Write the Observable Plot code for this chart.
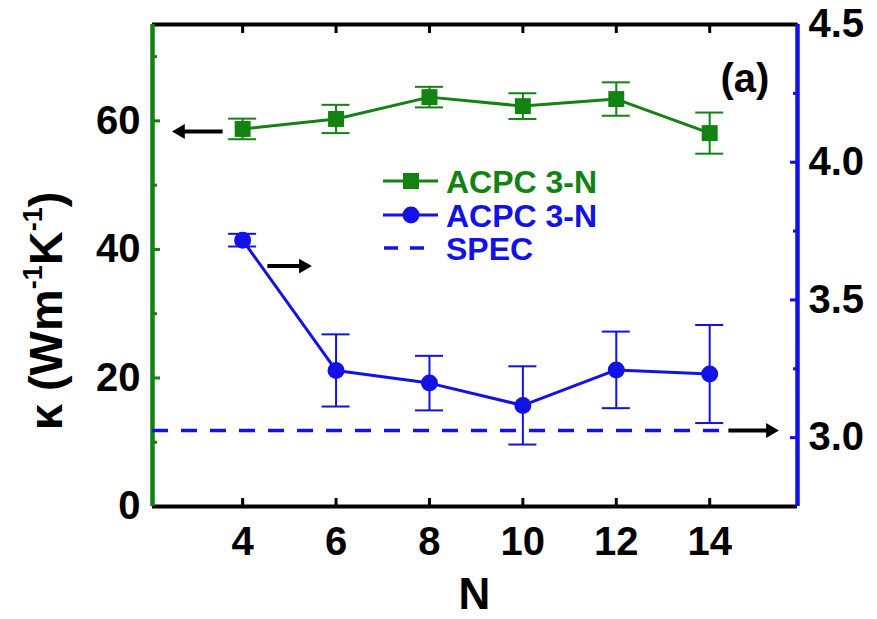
<!DOCTYPE html>
<html><head><meta charset="utf-8">
<script src="https://cdn.jsdelivr.net/npm/d3@7"></script>
<script src="https://cdn.jsdelivr.net/npm/@observablehq/plot@0.6"></script>
<style>body{margin:0;background:#fff} #chart{width:877px;height:619px}</style>
</head><body><div id="chart"></div>
<script>
// ---- data ----
const N = [4, 6, 8, 10, 12, 14];
const kappaGreen = [58.75, 60.3, 63.7, 62.3, 63.4, 58.1];       // left axis, W m^-1 K^-1
const kappaGreenErr = [1.6, 2.2, 1.6, 2.0, 2.6, 3.2];
const kappaBlue = [3.717, 3.244, 3.198, 3.117, 3.246, 3.231];   // right axis
const kappaBlueErr = [0.023, 0.131, 0.099, 0.142, 0.139, 0.178];
const specValue = 3.026;
const xTicks = [4, 6, 8, 10, 12, 14];
const leftTicks = [0, 20, 40, 60];
const leftMinor = [10, 30, 50, 70];
const rightTicks = [3.0, 3.5, 4.0, 4.5];
const rightMinor = [3.25, 3.75, 4.25];
const legendLabels = ["ACPC 3-N", "ACPC 3-N", "SPEC"];
const panelLabel = "(a)";
const xLabel = "N";

// ---- scales / styling ----
const green = "#128212";
const blue = "#1212e6";
const xDom = [2.07, 15.88];
const leftDom = [0, 75];
const rightDom = [2.75, 4.5];
const toLeft = d3.scaleLinear().domain(rightDom).range(leftDom);

const greenData = N.map((n, i) => ({n, v: kappaGreen[i], e: kappaGreenErr[i]}));
const blueData = N.map((n, i) => ({n, v: toLeft(kappaBlue[i]), lo: toLeft(kappaBlue[i] - kappaBlueErr[i]), hi: toLeft(kappaBlue[i] + kappaBlueErr[i])}));
const cap = 0.3;

// annotation arrows (data units)
const arrows = [
  {x1: 3.57, x2: 2.52, y: 58.35, dir: -1},
  {x1: 4.53, x2: 5.45, y: toLeft(3.623), dir: 1},
  {x1: 14.4, x2: 15.45, y: toLeft(specValue), dir: 1}
];

const chart = Plot.plot({
  width: 877, height: 619,
  marginLeft: 152, marginRight: 80, marginTop: 24, marginBottom: 113,
  style: {fontFamily: "'Liberation Sans', Arial, sans-serif", fontSize: "40px", fontWeight: "bold", background: "#fff", overflow: "visible"},
  x: {domain: xDom, label: null},
  y: {domain: leftDom, label: null},
  marks: [
    // tick labels
    Plot.axisX({ticks: xTicks, anchor: "bottom", tickSize: 0, tickPadding: 20, label: null}),
    Plot.axisY({ticks: leftTicks, anchor: "left", tickSize: 0, tickPadding: 12, label: null}),
    Plot.axisY({ticks: rightTicks.map(d => toLeft(d)), anchor: "right", tickSize: 0, tickPadding: 11, label: null,
      tickFormat: d => toLeft.invert(d).toFixed(1)}),
    // inward ticks
    Plot.axisX({ticks: xTicks, anchor: "bottom", tickSize: -8, strokeWidth: 3, tickFormat: () => "", label: null}),
    Plot.axisX({ticks: xTicks, anchor: "top", tickSize: -8, strokeWidth: 3, tickFormat: () => "", label: null}),
    Plot.axisY({ticks: leftTicks, anchor: "left", tickSize: -8, strokeWidth: 3, stroke: green, tickFormat: () => "", label: null}),
    Plot.axisY({ticks: leftMinor, anchor: "left", tickSize: -5, strokeWidth: 3, stroke: green, tickFormat: () => "", label: null}),
    Plot.axisY({ticks: rightTicks.map(d => toLeft(d)), anchor: "right", tickSize: -8, strokeWidth: 3, stroke: blue, tickFormat: () => "", label: null}),
    Plot.axisY({ticks: rightMinor.map(d => toLeft(d)), anchor: "right", tickSize: -5, strokeWidth: 3, stroke: blue, tickFormat: () => "", label: null}),
    // frame
    Plot.ruleY([leftDom[0]], {stroke: "#000", strokeWidth: 4}),
    Plot.ruleY([leftDom[1]], {stroke: "#000", strokeWidth: 4}),
    Plot.ruleX([xDom[0]], {stroke: green, strokeWidth: 4.5}),
    Plot.ruleX([xDom[1]], {stroke: blue, strokeWidth: 4.5}),
    // SPEC dashed line
    Plot.ruleY([specValue], {y: d => toLeft(d), x1: xDom[0], x2: 14.25, stroke: blue, strokeWidth: 3.5, strokeDasharray: "16,13"}),
    // green series
    Plot.ruleX(greenData, {x: "n", y1: d => d.v - d.e, y2: d => d.v + d.e, stroke: green, strokeWidth: 2}),
    Plot.ruleY(greenData, {y: d => d.v - d.e, x1: d => d.n - cap, x2: d => d.n + cap, stroke: green, strokeWidth: 2}),
    Plot.ruleY(greenData, {y: d => d.v + d.e, x1: d => d.n - cap, x2: d => d.n + cap, stroke: green, strokeWidth: 2}),
    Plot.line(greenData, {x: "n", y: "v", stroke: green, strokeWidth: 3}),
    Plot.dot(greenData, {x: "n", y: "v", symbol: "square", r: 9, fill: green, stroke: "none"}),
    // blue series
    Plot.ruleX(blueData, {x: "n", y1: "lo", y2: "hi", stroke: blue, strokeWidth: 2}),
    Plot.ruleY(blueData, {y: "lo", x1: d => d.n - cap, x2: d => d.n + cap, stroke: blue, strokeWidth: 2}),
    Plot.ruleY(blueData, {y: "hi", x1: d => d.n - cap, x2: d => d.n + cap, stroke: blue, strokeWidth: 2}),
    Plot.line(blueData, {x: "n", y: "v", stroke: blue, strokeWidth: 3}),
    Plot.dot(blueData, {x: "n", y: "v", r: 8.5, fill: blue, stroke: "none"}),
    // arrows
    Plot.link(arrows, {x1: "x1", x2: d => d.x2 - d.dir * 0.2, y1: "y", y2: "y", stroke: "#000", strokeWidth: 4}),
    Plot.dot(arrows, {x: d => d.x2 - d.dir * 0.15, y: "y", symbol: "triangle", r: 5.5, fill: "#000", stroke: "none", rotate: d => d.dir * 90})
  ]
});
document.getElementById("chart").appendChild(chart);

// ---- text annotations and legend ----
const svg = d3.select(chart);
const font = "'Liberation Sans', Arial, sans-serif";

// y-axis label
const yl = svg.append("text").attr("transform", "translate(62,311) rotate(-90)")
  .attr("text-anchor", "middle").attr("font-family", font).attr("font-weight", "bold")
  .attr("font-size", 47).attr("fill", "#000");
yl.append("tspan").text("κ (Wm");
yl.append("tspan").attr("dy", -20).attr("font-size", 27).text("-1");
yl.append("tspan").attr("dy", 20).text("K");
yl.append("tspan").attr("dy", -20).attr("font-size", 27).text("-1");
yl.append("tspan").attr("dy", 20).text(")");

// x label
svg.append("text").attr("x", 474.5).attr("y", 609).attr("text-anchor", "middle")
  .attr("font-family", font).attr("font-weight", "bold").attr("font-size", 44).text(xLabel);

// panel label
svg.append("text").attr("x", 745).attr("y", 92).attr("text-anchor", "middle")
  .attr("font-family", font).attr("font-weight", "bold").attr("font-size", 40).text(panelLabel);

// legend
const lg = svg.append("g").attr("font-family", font).attr("font-weight", "bold").attr("font-size", 32)
  .attr("text-anchor", "start");
const rows = [{y: 181, c: green, kind: "square"}, {y: 215, c: blue, kind: "circle"}, {y: 248, c: blue, kind: "dash"}];
rows.forEach((r, i) => {
  if (r.kind === "dash") {
    lg.append("line").attr("x1", 384).attr("x2", 398).attr("y1", r.y).attr("y2", r.y).attr("stroke", r.c).attr("stroke-width", 3.5);
    lg.append("line").attr("x1", 410).attr("x2", 424).attr("y1", r.y).attr("y2", r.y).attr("stroke", r.c).attr("stroke-width", 3.5);
  } else {
    lg.append("line").attr("x1", 383).attr("x2", 438).attr("y1", r.y).attr("y2", r.y).attr("stroke", r.c).attr("stroke-width", 3);
    if (r.kind === "square") lg.append("rect").attr("x", 403).attr("y", r.y - 8).attr("width", 16).attr("height", 16).attr("fill", r.c);
    else lg.append("circle").attr("cx", 411).attr("cy", r.y).attr("r", 8.5).attr("fill", r.c);
  }
  lg.append("text").attr("x", 446).attr("y", r.y + 12).attr("text-anchor", "start").attr("fill", r.c).text(legendLabels[i]);
});
</script>
</body></html>
